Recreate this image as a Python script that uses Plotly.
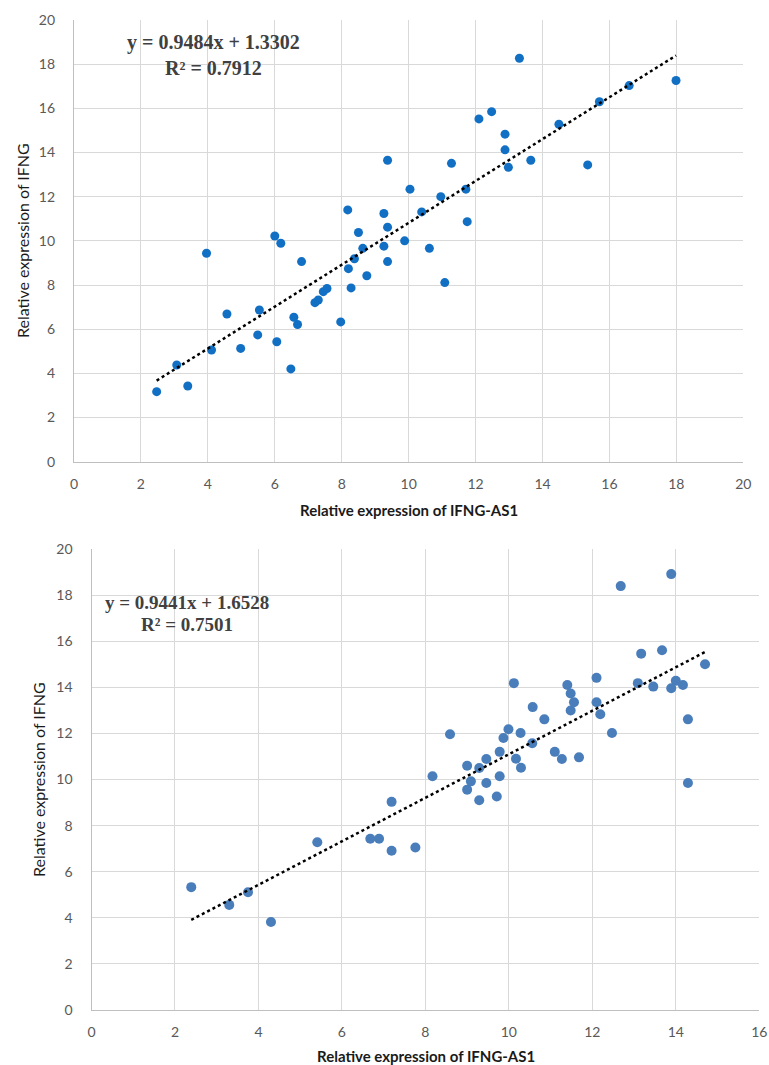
import plotly.graph_objects as go

# ---------------- data: top panel ----------------
top_x = [2.47, 3.07, 3.40, 3.96, 4.11, 4.57, 4.98, 5.49, 5.54, 6.00, 6.18, 6.06, 6.48, 6.57,
         6.68, 6.80, 7.20, 7.30, 7.45, 7.56, 7.97, 8.20, 8.28, 8.38, 8.50, 8.63, 8.75, 9.26,
         9.37, 8.18, 9.26, 9.37, 9.37, 9.88, 10.62, 11.08, 10.04, 10.39, 10.96, 11.28, 11.71,
         11.75, 12.10, 12.48, 12.88, 12.88, 12.98, 13.31, 13.65, 14.49, 15.35, 15.70, 16.59, 17.99]
top_y = [3.17, 4.38, 3.43, 9.44, 5.06, 6.69, 5.13, 5.74, 6.87, 10.22, 9.89, 5.43, 4.20, 6.54,
         6.21, 9.06, 7.20, 7.32, 7.70, 7.84, 6.33, 8.74, 7.87, 9.19, 10.38, 9.66, 8.42, 9.76,
         9.06, 11.40, 11.24, 10.62, 13.65, 10.00, 9.66, 8.11, 12.34, 11.31, 12.00, 13.51, 12.34,
         10.87, 15.52, 15.85, 14.83, 14.12, 13.33, 18.27, 13.65, 15.28, 13.44, 16.30, 17.03, 17.26]
top_slope, top_intercept = 0.9484, 1.3302
top_eq = ["y = 0.9484x + 1.3302", "R² = 0.7912"]

# ---------------- data: bottom panel ----------------
bot_x = [2.39, 3.30, 3.75, 4.30, 5.41, 6.68, 6.89, 7.19, 7.19, 7.76, 9.00, 9.29, 9.71, 8.17,
         8.59, 9.00, 9.09, 9.29, 9.46, 9.46, 9.78, 9.78, 9.87, 9.99, 10.17, 10.28, 10.29, 10.12,
         10.57, 10.56, 10.85, 11.10, 11.27, 11.68, 11.40, 11.48, 11.56, 11.48, 12.10, 12.10, 12.19,
         12.47, 12.68, 13.17, 13.67, 13.09, 13.46, 13.89, 13.89, 14.00, 14.17, 14.29, 14.29, 14.70]
bot_y = [5.33, 4.56, 5.11, 3.82, 7.28, 7.43, 7.43, 6.91, 9.03, 7.05, 9.56, 9.10, 9.26, 10.14,
         11.96, 10.60, 9.92, 10.50, 10.89, 9.85, 10.14, 11.20, 11.80, 12.18, 10.90, 12.02, 10.51, 14.18,
         13.14, 11.57, 12.61, 11.20, 10.89, 10.96, 14.10, 13.73, 13.35, 12.99, 14.41, 13.35, 12.83,
         12.02, 18.39, 15.46, 15.61, 14.18, 14.03, 18.91, 13.96, 14.28, 14.10, 12.61, 9.85, 15.00]
bot_slope, bot_intercept = 0.9441, 1.6528
bot_eq = ["y = 0.9441x + 1.6528", "R² = 0.7501"]

x_title = "Relative expression of IFNG-AS1"
y_title = "Relative expression of IFNG"

W, H = 769, 1065


def px(xp):
    return xp / W


def py(yp):
    return 1 - yp / H


fig = go.Figure()

# top panel
fig.add_trace(go.Scatter(x=top_x, y=top_y, mode="markers", xaxis="x", yaxis="y",
                         marker=dict(size=9, color="#1270C4"), showlegend=False))
tx = [min(top_x), max(top_x)]
fig.add_trace(go.Scatter(x=tx, y=[top_slope * v + top_intercept for v in tx], mode="lines",
                         xaxis="x", yaxis="y", line=dict(color="black", width=2.5, dash="dot"),
                         showlegend=False))
# bottom panel
fig.add_trace(go.Scatter(x=bot_x, y=bot_y, mode="markers", xaxis="x2", yaxis="y2",
                         marker=dict(size=10, color="#4A7EBB"), showlegend=False))
bx = [min(bot_x), max(bot_x)]
fig.add_trace(go.Scatter(x=bx, y=[bot_slope * v + bot_intercept for v in bx], mode="lines",
                         xaxis="x2", yaxis="y2", line=dict(color="black", width=2.5, dash="dot"),
                         showlegend=False))

tickfont = dict(family="Lato, Open Sans, sans-serif", size=14, color="#595959")
axcommon = dict(showgrid=True, gridcolor="#d9d9d9", gridwidth=1, zeroline=False,
                showline=True, linecolor="#bfbfbf", linewidth=1.2, ticks="",
                tickfont=tickfont, fixedrange=True, automargin=False)

fig.update_layout(
    width=W, height=H, margin=dict(l=0, r=0, t=0, b=0, pad=0),
    paper_bgcolor="white", plot_bgcolor="white",
    xaxis=dict(domain=[px(74), px(743.3)], range=[0, 20], dtick=2, anchor="y",
               ticklabelstandoff=9, **axcommon),
    yaxis=dict(domain=[py(461.7), py(20)], range=[0, 20], dtick=2, anchor="x",
               ticklabelstandoff=15, **axcommon),
    xaxis2=dict(domain=[px(91.5), px(759.3)], range=[0, 16], dtick=2, anchor="y2",
                ticklabelstandoff=9, **axcommon),
    yaxis2=dict(domain=[py(1010), py(549)], range=[0, 20], dtick=2, anchor="x2",
                ticklabelstandoff=15, **axcommon),
)

eqfont1 = dict(family="Liberation Serif, Times New Roman, serif", size=20, color="#404040")
eqfont2 = dict(family="Liberation Serif, Times New Roman, serif", size=19, color="#404040")
ann = [
    dict(text="<b>%s</b>" % top_eq[0], x=px(213), y=py(43), font=eqfont1),
    dict(text="<b>%s</b>" % top_eq[1], x=px(213), y=py(68), font=eqfont1),
    dict(text="<b>%s</b>" % bot_eq[0], x=px(187), y=py(602), font=eqfont2),
    dict(text="<b>%s</b>" % bot_eq[1], x=px(187), y=py(624), font=eqfont2),
    dict(text="<b>%s</b>" % x_title, x=px(408.6), y=py(510),
         font=dict(family="Lato, sans-serif", size=15, color="#1a1a1a")),
    dict(text="<b>%s</b>" % x_title, x=px(425.5), y=py(1056),
         font=dict(family="Lato, sans-serif", size=15, color="#1a1a1a")),
    dict(text=y_title, x=px(22), y=py(241), textangle=-90,
         font=dict(family="Lato, sans-serif", size=16, color="#1a1a1a")),
    dict(text=y_title, x=px(38), y=py(780), textangle=-90,
         font=dict(family="Lato, sans-serif", size=16, color="#1a1a1a")),
]
for a in ann:
    a.update(xref="paper", yref="paper", showarrow=False, xanchor="center", yanchor="middle")
fig.update_layout(annotations=ann)

fig.write_html("out.html", config={"displayModeBar": False},
               post_script="document.body.style.margin='0';document.body.style.padding='0';")
